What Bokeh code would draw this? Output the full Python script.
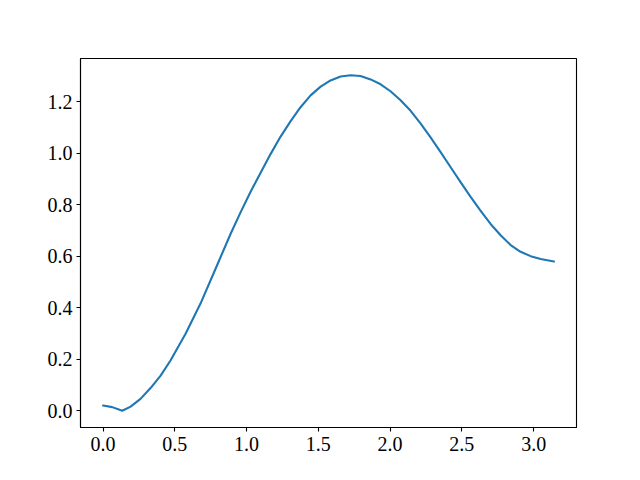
from bokeh.plotting import figure
from bokeh.models import Range1d, FixedTicker, PrintfTickFormatter
from bokeh.embed import file_html
from bokeh.resources import INLINE

# Curve values
x_vals = [0.0, 0.064, 0.134, 0.192, 0.261, 0.331, 0.401, 0.470, 0.575, 0.679,
          0.784, 0.889, 0.958, 1.028, 1.098, 1.167, 1.237, 1.307, 1.376, 1.446,
          1.516, 1.585, 1.655, 1.725, 1.794, 1.864, 1.934, 2.003, 2.073, 2.143,
          2.213, 2.282, 2.352, 2.422, 2.491, 2.561, 2.631, 2.700, 2.770, 2.840,
          2.909, 2.979, 3.049, 3.1416]
y_vals = [0.020, 0.014, 0.0, 0.016, 0.046, 0.088, 0.136, 0.195, 0.299, 0.416,
          0.551, 0.687, 0.770, 0.850, 0.924, 0.996, 1.064, 1.124, 1.178, 1.224,
          1.258, 1.282, 1.297, 1.302, 1.299, 1.286, 1.267, 1.240, 1.205, 1.164,
          1.114, 1.061, 1.004, 0.945, 0.887, 0.830, 0.776, 0.725, 0.681, 0.643,
          0.617, 0.600, 0.589, 0.579]

x_ticks = [0.0, 0.5, 1.0, 1.5, 2.0, 2.5, 3.0]
y_ticks = [0.0, 0.2, 0.4, 0.6, 0.8, 1.0, 1.2]

xmin, xmax = min(x_vals), max(x_vals)
ymin, ymax = min(y_vals), max(y_vals)
xm = 0.05 * (xmax - xmin)
ym = 0.05 * (ymax - ymin)

p = figure(width=632, height=472, output_backend="svg", toolbar_location=None,
           x_range=Range1d(xmin - xm, xmax + xm),
           y_range=Range1d(ymin - ym, ymax + ym),
           min_border_left=80, min_border_right=56,
           min_border_top=58, min_border_bottom=45)

p.line(x_vals, y_vals, line_color="#1f77b4", line_width=2.1,
       line_join="round", line_cap="round")

p.xgrid.visible = False
p.ygrid.visible = False
p.outline_line_color = "black"
p.outline_line_width = 1.1
p.outline_line_alpha = 1.0
p.background_fill_color = "white"
p.border_fill_color = "white"

font = "Liberation Serif"
for ax, ticks in ((p.xaxis[0], x_ticks), (p.yaxis[0], y_ticks)):
    ax.ticker = FixedTicker(ticks=ticks)
    ax.formatter = PrintfTickFormatter(format="%.1f")
    ax.minor_tick_line_color = None
    ax.major_tick_in = 0
    ax.major_tick_out = 4
    ax.major_tick_line_color = "black"
    ax.major_tick_line_width = 1.1
    ax.axis_line_color = "black"
    ax.axis_line_width = 1.1
    ax.major_label_text_font = font
    ax.major_label_text_font_size = "20px"
    ax.major_label_text_color = "black"

p.xaxis.major_label_standoff = 5
p.yaxis.major_label_standoff = 4

open("out.html", "w").write(file_html(p, INLINE))
